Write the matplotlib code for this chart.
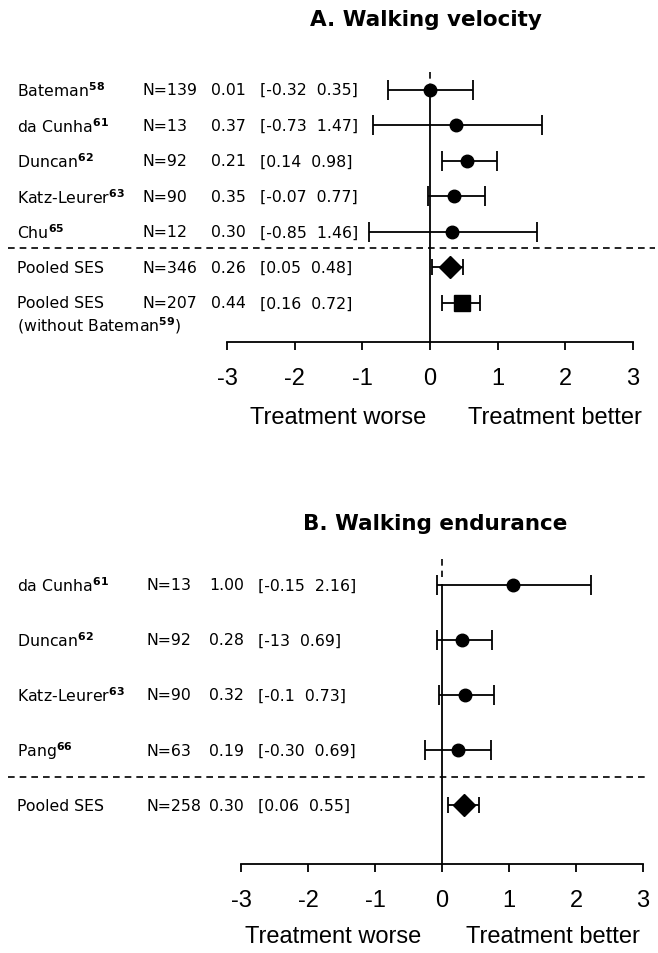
import matplotlib
matplotlib.use("Agg")
import matplotlib.pyplot as plt
from matplotlib.transforms import blended_transform_factory
from matplotlib import font_manager

# ---------------- data ----------------
# Panel A: walking velocity
a_names = [r"Bateman$^{\mathbf{58}}$", r"da Cunha$^{\mathbf{61}}$", r"Duncan$^{\mathbf{62}}$",
           r"Katz-Leurer$^{\mathbf{63}}$", r"Chu$^{\mathbf{65}}$"]
a_n = ["N=139", "N=13", "N=92", "N=90", "N=12"]
a_es_txt = ["0.01", "0.37", "0.21", "0.35", "0.30"]
a_ci_txt = ["[-0.32  0.35]", "[-0.73  1.47]", "[0.14  0.98]", "[-0.07  0.77]", "[-0.85  1.46]"]
a_est = [0.00, 0.38, 0.55, 0.35, 0.33]
a_lo = [-0.62, -0.84, 0.18, -0.03, -0.90]
a_hi = [0.64, 1.65, 0.99, 0.81, 1.58]

a_pool_names = ["Pooled SES", "Pooled SES"]
a_pool_n = ["N=346", "N=207"]
a_pool_es_txt = ["0.26", "0.44"]
a_pool_ci_txt = ["[0.05  0.48]", "[0.16  0.72]"]
a_pool_est = [0.30, 0.47]
a_pool_lo = [0.03, 0.18]
a_pool_hi = [0.49, 0.74]
a_pool_note = r"(without Bateman$^{\mathbf{59}}$)"

# Panel B: walking endurance
b_names = [r"da Cunha$^{\mathbf{61}}$", r"Duncan$^{\mathbf{62}}$",
           r"Katz-Leurer$^{\mathbf{63}}$", r"Pang$^{\mathbf{66}}$"]
b_n = ["N=13", "N=92", "N=90", "N=63"]
b_es_txt = ["1.00", "0.28", "0.32", "0.19"]
b_ci_txt = ["[-0.15  2.16]", "[-13  0.69]", "[-0.1  0.73]", "[-0.30  0.69]"]
b_est = [1.06, 0.30, 0.34, 0.24]
b_lo = [-0.08, -0.08, -0.05, -0.25]
b_hi = [2.23, 0.74, 0.77, 0.73]

b_pool_names = ["Pooled SES"]
b_pool_n = ["N=258"]
b_pool_es_txt = ["0.30"]
b_pool_ci_txt = ["[0.06  0.55]"]
b_pool_est = [0.33]
b_pool_lo = [0.09]
b_pool_hi = [0.55]

x_ticks = [-3, -2, -1, 0, 1, 2, 3]
x_ticklabels = ["-3", "-2", "-1", "0", "1", "2", "3"]

# ---------------- style ----------------
W, H = 658, 954
fig = plt.figure(figsize=(W / 100, H / 100), dpi=100)

installed = {f.name for f in font_manager.fontManager.ttflist}
narrow = "Liberation Sans Narrow" if "Liberation Sans Narrow" in installed else "Liberation Sans"
big_font = dict(family=[narrow, "DejaVu Sans"], size=17)
row_font = dict(family=["DejaVu Sans"], size=11.3)
title_font = dict(family=["DejaVu Sans"], size=15.5, weight="bold")


def fx(px):
    return px / W


def fy(py):
    return 1 - py / H


def panel(ax, top_px, bottom_px, left_px, right_px, ylim, names, ns, es_txt, ci_txt, est, lo, hi,
          pnames, pns, pes_txt, pci_txt, pest, plo, phi, pool_markers, cols, dash_y,
          dash_x, title, title_xy, treat_y, treat_x, study_pos, pool_pos):
    ax.set_position([fx(left_px), fy(bottom_px), fx(right_px - left_px), (bottom_px - top_px) / H])
    ax.set_xlim(-3, 3)
    ax.set_ylim(*ylim)
    for s in ["top", "right", "left"]:
        ax.spines[s].set_visible(False)
    ax.spines["bottom"].set_linewidth(1.3)
    ax.set_yticks([])
    ax.set_xticks(x_ticks)
    ax.set_xticklabels(x_ticklabels, fontdict=big_font)
    ax.tick_params(axis="x", direction="out", length=6, width=1.3, pad=12)
    ax.patch.set_alpha(0)

    # zero line
    ax.plot([0, 0], [ylim[1], study_pos[0] - 0.15], color="black", lw=1.2, ls=(0, (4, 3)), clip_on=False)
    ax.plot([0, 0], [study_pos[0], ylim[0]], color="black", lw=1.3, clip_on=False)

    # studies
    for i in range(len(est)):
        y = study_pos[i]
        ax.errorbar([est[i]], [y], xerr=[[est[i] - lo[i]], [hi[i] - est[i]]], fmt="o",
                    color="black", ms=9, capsize=7, capthick=1.3, elinewidth=1.3, clip_on=False)
    for i in range(len(pest)):
        y = pool_pos[i]
        ms = 11 if pool_markers[i] == "D" else 12
        ax.errorbar([pest[i]], [y], xerr=[[pest[i] - plo[i]], [phi[i] - pest[i]]],
                    fmt=pool_markers[i], color="black", ms=ms,
                    capsize=6, capthick=1.3, elinewidth=1.3, clip_on=False)

    tr = blended_transform_factory(fig.transFigure, ax.transData)
    # dashed separator across figure
    ax.plot([fx(dash_x[0]), fx(dash_x[1])], [dash_y, dash_y], transform=tr, color="black",
            lw=1.2, ls=(0, (4, 3)), clip_on=False)

    # row texts
    allrows = list(zip(names, ns, es_txt, ci_txt, study_pos)) + list(zip(pnames, pns, pes_txt, pci_txt, pool_pos))
    for (nm, n, e, c, y) in allrows:
        for txt, cx in zip([nm, n, e, c], cols):
            ax.text(fx(cx), y, txt, transform=tr, ha="left", va="center", **row_font)

    fig.text(fx(title_xy[0]), fy(title_xy[1]), title, ha="center", va="center", **title_font)
    fig.text(fx(treat_x[0]), fy(treat_y), "Treatment worse", ha="center", va="center", **big_font)
    fig.text(fx(treat_x[1]), fy(treat_y), "Treatment better", ha="center", va="center", **big_font)
    return tr


# ---- Panel A ----
axA = fig.add_axes([0, 0, 1, 1])
a_study_pos = [0, 1, 2, 3, 4]
a_pool_pos = [5, 6]
trA = panel(axA, 73, 343, 227, 633, (7.1, -0.5), a_names, a_n, a_es_txt, a_ci_txt, a_est, a_lo, a_hi,
            a_pool_names, a_pool_n, a_pool_es_txt, a_pool_ci_txt, a_pool_est, a_pool_lo, a_pool_hi,
            ["D", "s"], [17, 142, 211, 260], 4.45, (8, 655), "A. Walking velocity", (426, 20),
            418, (338, 555), a_study_pos, a_pool_pos)
axA.text(fx(17), 6.6, a_pool_note, transform=trA, ha="left", va="center", **row_font)

# ---- Panel B ----
axB = fig.add_axes([0, 0, 1, 1])
b_study_pos = [0, 1, 2, 3]
b_pool_pos = [4]
panel(axB, 560, 865, 241, 643, (5.07, -0.47), b_names, b_n, b_es_txt, b_ci_txt, b_est, b_lo, b_hi,
      b_pool_names, b_pool_n, b_pool_es_txt, b_pool_ci_txt, b_pool_est, b_pool_lo, b_pool_hi,
      ["D"], [17, 146, 209, 258], 3.49, (8, 648), "B. Walking endurance", (435, 524),
      937, (333, 553), b_study_pos, b_pool_pos)

fig.savefig("out.png", dpi=100)
